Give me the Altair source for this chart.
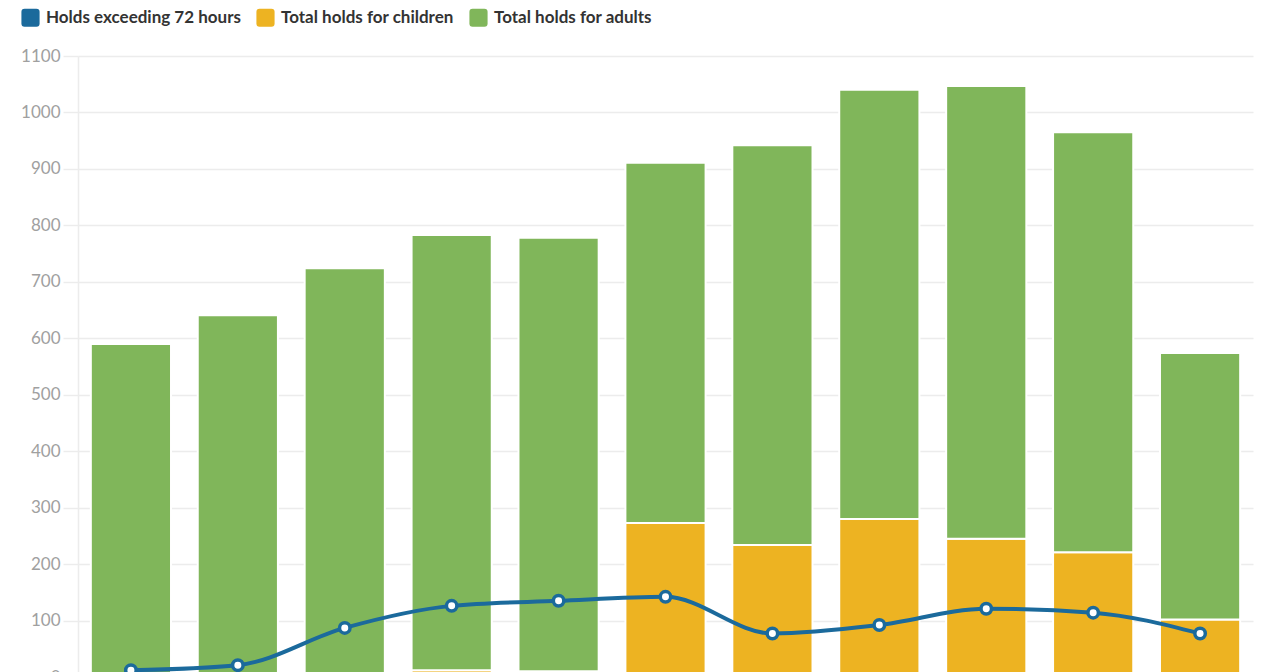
import altair as alt
import pandas as pd

periods = ["2012", "2013", "2014", "2015", "2016", "2017", "2018", "2019", "2020", "2021", "2022"]
totals = [590, 641, 724, 783, 778, 911, 942, 1040, 1047, 965, 574]
children = [0, 0, 0, 12, 10, 273, 234, 280, 245, 221, 102]
over72 = [12, 21, 87, 126, 135, 142, 77, 92, 121, 114, 77]

series = ["Holds exceeding 72 hours", "Total holds for children", "Total holds for adults"]
colors = ["#1b6a9c", "#edb322", "#80b65a"]

rows = []
for p, t, c in zip(periods, totals, children):
    rows.append({"period": p, "series": series[1], "value": c, "ord": 0})
    rows.append({"period": p, "series": series[2], "value": t - c, "ord": 1})
bars_df = pd.DataFrame(rows)
line_df = pd.DataFrame({"period": periods, "value": over72})

FONT = "Lato"
rounded = "M-1,-0.65 Q-1,-1 -0.65,-1 L0.65,-1 Q1,-1 1,-0.65 L1,0.65 Q1,1 0.65,1 L-0.65,1 Q-1,1 -1,0.65 Z"

xenc = alt.X("period:N", sort=periods, axis=None,
             scale=alt.Scale(paddingInner=0.25, paddingOuter=0.12))
yscale = alt.Scale(domain=[0, 1100], nice=False)
yaxis = alt.Axis(values=list(range(0, 1200, 100)), title=None, grid=True, format="d",
                 gridColor="#ececec", gridWidth=1.5, tickColor="#ececec", tickWidth=1.5,
                 tickSize=15, domainColor="#ececec", domainWidth=1.5,
                 labelColor="#a0a0a0", labelFontSize=17, labelFont=FONT, labelPadding=3)

bars = alt.Chart(bars_df).mark_bar(stroke="white", strokeWidth=2).encode(
    x=xenc,
    y=alt.Y("value:Q", stack="zero", scale=yscale, axis=yaxis),
    color=alt.Color("series:N", scale=alt.Scale(domain=series, range=colors),
                    legend=alt.Legend(title=None, orient="none", legendX=-57, legendY=-48,
                                      direction="horizontal", symbolType=rounded,
                                      symbolSize=330, symbolStrokeWidth=0,
                                      labelFont=FONT, labelFontSize=17, labelFontWeight="bold",
                                      labelColor="#333333", labelOffset=6, columnPadding=15,
                                      labelLimit=400, padding=0)),
    order=alt.Order("ord:Q"),
)

line = alt.Chart(line_df).mark_line(interpolate="monotone", stroke="#1b6a9c", strokeWidth=4).encode(
    x=xenc,
    y=alt.Y("value:Q", scale=yscale),
)
points = alt.Chart(line_df).mark_point(filled=True, fill="white", stroke="#1b6a9c",
                                       strokeWidth=3.5, size=110, opacity=1).encode(
    x=xenc,
    y=alt.Y("value:Q", scale=yscale),
)

chart = alt.layer(bars, line, points).properties(
    width=1175, height=621,
    autosize=alt.AutoSizeParams(type="none"),
    padding={"left": 70, "top": 48, "right": 10, "bottom": -5},
).configure(font=FONT).configure_view(stroke=None)

chart.save("out.html", embed_options={"renderer": "svg", "actions": False})
